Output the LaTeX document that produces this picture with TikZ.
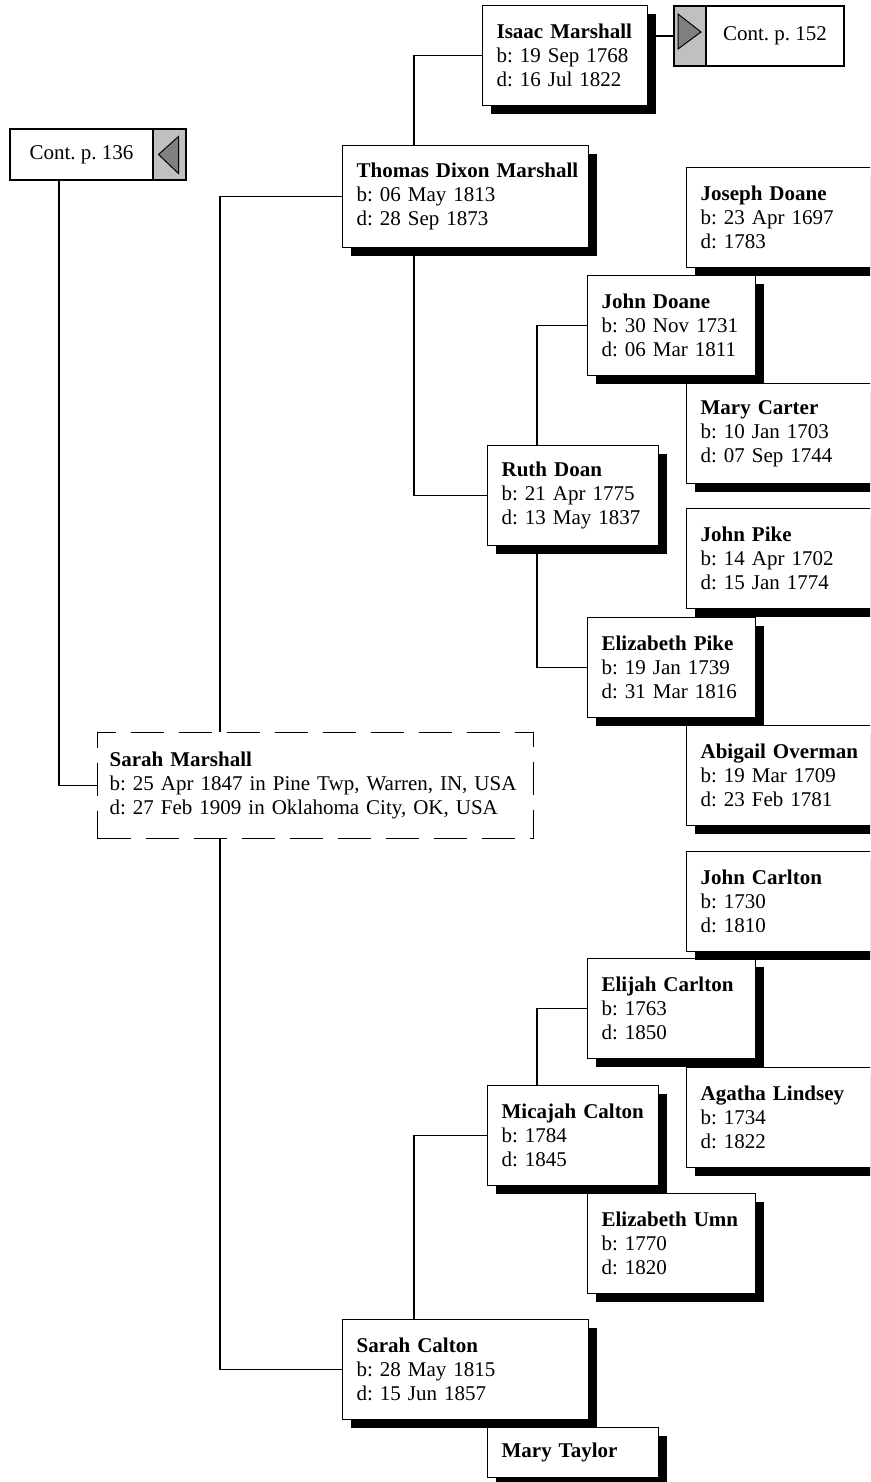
\documentclass[tikz,border=0pt]{standalone}
\usepackage{fontspec}
\setmainfont{Liberation Serif}
\usetikzlibrary{shadows}

\definecolor{contgray}{HTML}{C0C0C0}
\definecolor{arrowgray}{HTML}{808080}

% bold name line that never breaks
\newcommand{\pname}[1]{\mbox{\textbf{#1}}}

\begin{document}
\frenchspacing
\begin{tikzpicture}[x=1pt, y=-1pt,
    every node/.style={font=\fontsize{21}{24}\selectfont},
    person/.style={draw, line width=1.2pt, fill=white, anchor=north west,
        align=left, inner xsep=14pt, inner ysep=0pt, minimum height=100pt,
        drop shadow={shadow xshift=8pt, shadow yshift=-8pt, fill=black, opacity=1}},
    gen1/.style={person, text width=218pt},
    gen2/.style={person, text width=143pt},
    gen3/.style={person, text width=140pt},
    gen4/.style={person, text width=200pt},
    root/.style={draw, line width=1.2pt, dash pattern=on 33pt off 15pt, fill=white,
        anchor=north west, align=left, inner xsep=12pt, inner ysep=0pt,
        minimum height=106pt, text width=412pt},
    contbox/.style={draw, line width=2pt, fill=white, anchor=north west, inner sep=0pt},
    contcell/.style={draw, line width=2pt, fill=contgray, anchor=north west, inner sep=0pt},
    link/.style={line width=1.2pt}]

\useasboundingbox (0,0) rectangle (870,1482);
\clip (0,0) rectangle (870,1482);

% Continuation boxes
\node[contbox, minimum width=143pt, minimum height=51pt] (cont136) at (9,128) {Cont. p. 136};
\node[contcell, minimum width=33pt, minimum height=51pt] (cont136cell) at (152,128) {};
\draw[fill=arrowgray, line width=1pt] (cont136cell.center) ++(-11,0) -- ++(20,-18) -- ++(0,37) -- cycle;

\node[contcell, minimum width=32pt, minimum height=60pt] (cont152cell) at (673,5) {};
\node[contbox, minimum width=138pt, minimum height=60pt] (cont152) at (705,5) {Cont. p. 152};
\draw[fill=arrowgray, line width=1pt] (cont152cell.center) ++(11,-4) -- ++(-23,-18) -- ++(0,35) -- cycle;

% Root person
\node[root] (sarahM) at (97,732) {\pname{Sarah Marshall}\\b: 25 Apr 1847 in Pine Twp, Warren, IN, USA\\d: 27 Feb 1909 in Oklahoma City, OK, USA};

% Parents
\node[gen1, minimum height=102pt] (thomasM) at (342,145) {\pname{Thomas Dixon Marshall}\\b: 06 May 1813\\d: 28 Sep 1873};
\node[gen1] (sarahC) at (342,1319) {\pname{Sarah Calton}\\b: 28 May 1815\\d: 15 Jun 1857};

% Grandparents
\node[gen2, text width=137pt] (isaacM) at (482,5) {\pname{Isaac Marshall}\\b: 19 Sep 1768\\d: 16 Jul 1822};
\node[gen2] (ruthD) at (487,445) {\pname{Ruth Doan}\\b: 21 Apr 1775\\d: 13 May 1837};
\node[gen2] (micajahC) at (487,1085) {\pname{Micajah Calton}\\b: 1784\\d: 1845};
\node[gen2, minimum height=50pt] (maryT) at (487,1427) {\pname{Mary Taylor}};

% Great-grandparents
\node[gen3] (johnD) at (587,275) {\pname{John Doane}\\b: 30 Nov 1731\\d: 06 Mar 1811};
\node[gen3] (elizP) at (587,617) {\pname{Elizabeth Pike}\\b: 19 Jan 1739\\d: 31 Mar 1816};
\node[gen3] (elijahC) at (587,958) {\pname{Elijah Carlton}\\b: 1763\\d: 1850};
\node[gen3] (elizU) at (587,1193) {\pname{Elizabeth Umn}\\b: 1770\\d: 1820};

% Great-great-grandparents (cut at the right edge)
\foreach \nm/\yy/\who/\born/\died in {
    josephD/167/Joseph Doane/23 Apr 1697/1783,
    maryC/383/Mary Carter/10 Jan 1703/07 Sep 1744,
    johnP/508/John Pike/14 Apr 1702/15 Jan 1774,
    abigailO/725/Abigail Overman/19 Mar 1709/23 Feb 1781,
    johnC/851/John Carlton/1730/1810,
    agathaL/1067/Agatha Lindsey/1734/1822} {
    \node[gen4] (\nm) at (686,\yy) {\pname{\who}\\b: \born\\d: \died};
}

% Connectors
\draw[link, line width=1.6pt] ([xshift=50pt]cont136.south west) |- (sarahM.west);
\draw[link] ([xshift=123pt]sarahM.north west) |- (thomasM.west);
\draw[link] ([xshift=123pt]sarahM.south west) |- (sarahC.west);
\draw[link] ([xshift=72pt]thomasM.north west) |- (isaacM.west);
\draw[link] ([xshift=72pt]thomasM.south west) |- (ruthD.west);
\draw[link] ([xshift=72pt]sarahC.north west) |- (micajahC.west);
\draw[link] ([xshift=50pt]ruthD.north west) |- (johnD.west);
\draw[link] ([xshift=50pt]ruthD.south west) |- (elizP.west);
\draw[link] ([xshift=50pt]micajahC.north west) |- (elijahC.west);
\draw[link, line width=2pt] (isaacM.east |- cont152cell.west) -- (cont152cell.west);

\end{tikzpicture}
\end{document}
